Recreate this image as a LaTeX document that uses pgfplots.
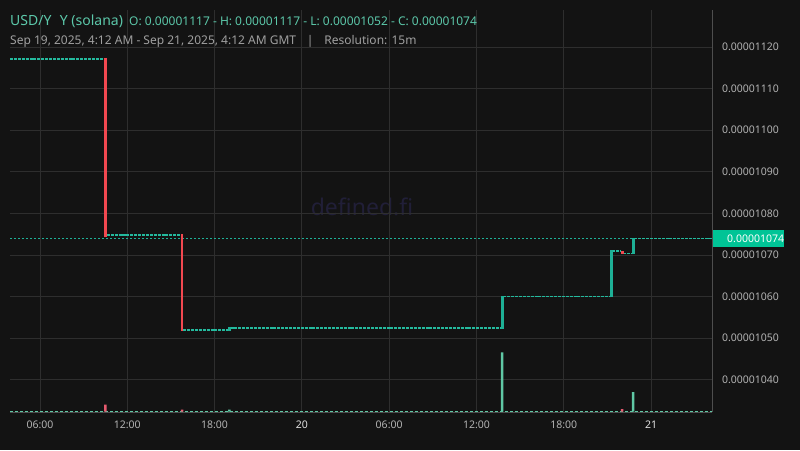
\documentclass[border=0pt]{standalone}
\usepackage{pgfplots}
\pgfplotsset{compat=1.18}
\usepackage{fontspec}
\setmainfont{Noto Sans}

\definecolor{bg}{RGB}{19,19,19}
\definecolor{gridc}{RGB}{46,46,46}
\definecolor{axisc}{RGB}{78,78,78}
\definecolor{upc}{RGB}{30,176,150}
\definecolor{flatc}{RGB}{36,186,158}
\definecolor{downc}{RGB}{242,72,80}
\definecolor{volup}{RGB}{96,200,165}
\definecolor{voldown}{RGB}{230,90,110}
\definecolor{labc}{RGB}{0,196,150}
\definecolor{headc}{RGB}{92,200,170}
\definecolor{subc}{RGB}{160,160,160}
\definecolor{tickc}{RGB}{178,178,178}
\definecolor{wmark}{RGB}{33,31,56}

\pgfplotsset{
  flatcandle/.style={color=flatc, line width=1.6pt, line cap=butt, dash pattern=on 3pt off 0.9pt},
  movecandle/.style={line width=2.7pt},
}

\begin{document}
\begin{tikzpicture}
\fill[bg] (0,0) rectangle (800pt,450pt);

% watermark
\node[text=wmark, font=\fontsize{23}{26}\selectfont] at (362pt,243pt) {defined.fi};

% price panel
\begin{axis}[
  at={(10pt,38pt)}, anchor=south west,
  width=702pt, height=402pt, scale only axis,
  xmin=3.94, xmax=52.19,
  ymin=1032.26, ymax=1128.9,
  axis line style={draw=none},
  xtick={6,12,...,48},
  xticklabels={06:00,12:00,18:00,{\bfseries\color{white!88!black}20},06:00,12:00,18:00,{\bfseries\color{white!88!black}21}},
  ytick={1040,1050,...,1120},
  yticklabels={0.00001040,0.00001050,0.00001060,0.00001070,0.00001080,0.00001090,0.00001100,0.00001110,0.00001120},
  yticklabel pos=right,
  major tick length=0pt,
  grid=major,
  major grid style={gridc, line width=0.8pt},
  tick label style={font=\fontsize{10.5}{12}\selectfont, text=tickc},
  yticklabel style={xshift=6.5pt},
  xticklabel style={yshift=-5.5pt},
  /pgf/number format/assume math mode=true,
  clip=false,
]
% current price line
\addplot[color=upc, line width=0.9pt, dash pattern=on 2pt off 2pt] coordinates {(3.94,1074) (52.19,1074)};

% flat 15m candles
\addplot[flatcandle] coordinates {(3.94,1117.15) (10.45,1117.15)};
\addplot[flatcandle] coordinates {(10.6,1074.8) (15.7,1074.8)};
\addplot[flatcandle] coordinates {(15.85,1052) (18.95,1052)};
\addplot[flatcandle] coordinates {(19.1,1052.5) (37.7,1052.5)};
\addplot[flatcandle] coordinates {(37.85,1060) (45.2,1060)};
\addplot[flatcandle] coordinates {(45.35,1071) (45.9,1071)};
\addplot[flatcandle] coordinates {(46.1,1070.4) (46.7,1070.4)};
\addplot[flatcandle] coordinates {(46.85,1074) (52.19,1074)};

% moving candles
\addplot[color=downc, movecandle] coordinates {(10.5,1117.4) (10.5,1074.4)};
\addplot[color=downc, movecandle] coordinates {(15.77,1075) (15.77,1051.8)};
\addplot[color=upc, movecandle] coordinates {(19.02,1051.8) (19.02,1052.8)};
\addplot[color=upc, movecandle] coordinates {(37.77,1052.3) (37.77,1060.2)};
\addplot[color=upc, movecandle] coordinates {(45.27,1059.8) (45.27,1071.1)};
\addplot[color=downc, movecandle] coordinates {(46.02,1071) (46.02,1070.3)};
\addplot[color=upc, movecandle] coordinates {(46.77,1070.2) (46.77,1074.1)};

% last price tag
\node[fill=labc, text=white, anchor=west, inner sep=0pt, minimum height=17pt,
  minimum width=72pt, text width=62pt, align=left,
  font=\fontsize{10.5}{12}\selectfont] at (axis cs:52.19,1074) {\hspace*{10pt}0.00001074};
\end{axis}

% volume panel
\begin{axis}[
  at={(10pt,38pt)}, anchor=south west,
  width=702pt, height=402pt, scale only axis,
  xmin=3.94, xmax=52.19,
  ymin=-0.5, ymax=401.5,
  hide axis,
  clip=false,
]
\addplot[color=volup, line width=1pt, dash pattern=on 3pt off 2pt] coordinates {(3.94,0.4) (52.19,0.4)};
\addplot[ybar, bar width=2.5pt, bar shift=0pt, fill=volup, draw=none] coordinates {(19.02,1.8) (37.77,59) (46.77,19.5)};
\addplot[ybar, bar width=2.5pt, bar shift=0pt, fill=voldown, draw=none] coordinates {(10.5,7) (15.77,1.8) (46.02,2.5)};
\end{axis}

% axis frame lines
\draw[axisc, line width=0.9pt] (10pt,38pt) -- (712pt,38pt);
\draw[axisc, line width=0.9pt] (712pt,38pt) -- (712pt,440pt);

% header
\node[anchor=base west, inner sep=0pt, text=headc, font=\fontsize{14}{16}\selectfont] at (10pt,424pt) {USD/Y\hspace{0.6em}Y (solana)};
\node[anchor=base west, inner sep=0pt, text=headc, font=\fontsize{12}{14}\selectfont] at (129pt,424pt) {O: 0.00001117 - H: 0.00001117 - L: 0.00001052 - C: 0.00001074};
\node[anchor=base west, inner sep=0pt, text=subc, font=\fontsize{12}{14}\selectfont] at (10pt,405pt) {Sep 19, 2025, 4:12 AM - Sep 21, 2025, 4:12 AM GMT\hspace{0.9em}|\hspace{0.9em}Resolution: 15m};

\pgfresetboundingbox
\path (0,0) rectangle (800pt,450pt);
\end{tikzpicture}
\end{document}
